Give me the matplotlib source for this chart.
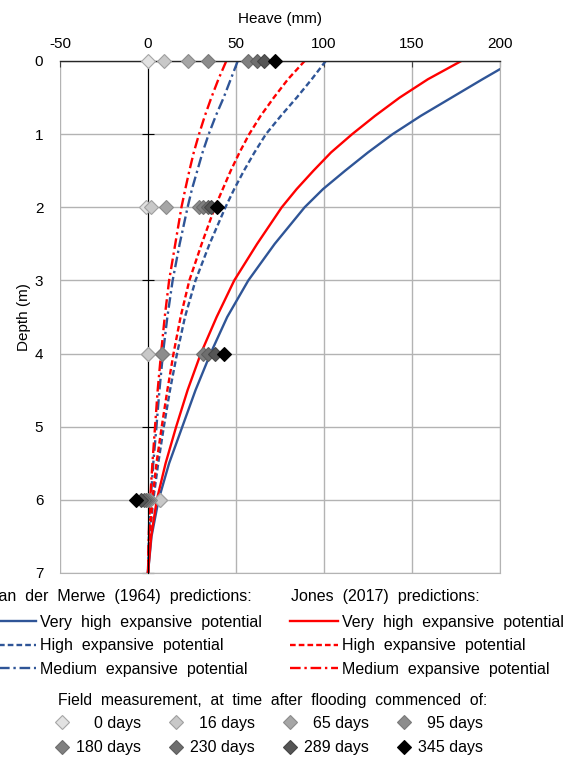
import matplotlib.pyplot as plt

plt.rcParams['font.family'] = ['Liberation Sans', 'DejaVu Sans']
plt.rcParams['font.size'] = 11
plt.rcParams['axes.unicode_minus'] = False

# depth below surface (m)
depth = [0, 0.25, 0.5, 0.75, 1, 1.25, 1.5, 1.75, 2, 2.5, 3, 3.5, 4, 4.5, 5, 5.5, 6, 6.5, 7]

# Van der Merwe (1964) predictions, heave (mm)
vdm_very_high = [208, 190, 172.5, 155, 139, 125, 112, 99.5, 89, 72, 57, 45, 35.5, 27, 19.5, 12, 6, 2, 0]
vdm_high = [101, 93, 84.5, 75.5, 67, 60.5, 54.5, 49, 44, 35, 27, 21, 16.5, 12.5, 9, 5.8, 3, 1, 0]
vdm_medium = [51, 47, 43, 38.5, 34.5, 31, 28, 25, 22.5, 18, 14, 11, 8.5, 6.5, 4.8, 3, 1.5, 0.5, 0]

# Jones (2017) predictions, heave (mm)
jones_very_high = [178, 159, 143, 129, 116, 104, 94, 84.5, 76, 62, 49, 39, 30, 22.5, 16, 10, 5, 1.8, 0]
jones_high = [89, 79.5, 71.5, 64, 57.5, 52, 47, 42.5, 38, 30.5, 23.5, 18.5, 14.5, 11, 7.8, 4.8, 2.5, 0.9, 0]
jones_medium = [44.5, 40, 36, 32.3, 29, 26, 23.5, 21.2, 19, 15.5, 12, 9.5, 7.4, 5.5, 4, 2.5, 1.2, 0.4, 0]

# field measurements (mm) at depths 0, 2, 4, 6 m
field_depth = [0, 2, 4, 6]
heave_0d = [0, -1, 0, 7]
heave_16d = [9, 1.5, 0, 7]
heave_65d = [23, 10, 8, 1]
heave_95d = [34, 29, 8, 0]
heave_180d = [57, 31, 31, -1]
heave_230d = [62, 34, 34, -2]
heave_289d = [66, 36, 38, -4]
heave_345d = [72, 39, 43, -7]

field_labels = ['    0 days', '  16 days', '  65 days', '  95 days',
                '180 days', '230 days', '289 days', '345 days']
field_series = [heave_0d, heave_16d, heave_65d, heave_95d,
                heave_180d, heave_230d, heave_289d, heave_345d]
field_face = ['#E2E2E2', '#C8C8C8', '#A6A6A6', '#8C8C8C',
              '#808080', '#6E6E6E', '#555555', '#000000']
field_edge = ['#A6A6A6', '#A0A0A0', '#8C8C8C', '#7A7A7A',
              '#6E6E6E', '#5E5E5E', '#454545', '#000000']

blue = '#2F5597'
red = '#FF0000'
fs_leg = 11.5

fig = plt.figure(figsize=(5.76, 7.57), dpi=100)
rect = [60 / 576, 1 - 573 / 757, 440 / 576, 512 / 757]
ax = fig.add_axes(rect)

lw = 1.7
b1, = ax.plot(vdm_very_high, depth, color=blue, lw=lw, label='Very  high  expansive  potential')
b2, = ax.plot(vdm_high, depth, color=blue, lw=lw, ls=(0, (2.4, 1.3)), label='High  expansive  potential')
b3, = ax.plot(vdm_medium, depth, color=blue, lw=lw, ls=(0, (4.5, 1.6, 1, 1.6)), label='Medium  expansive  potential')
r1, = ax.plot(jones_very_high, depth, color=red, lw=lw, label='Very  high  expansive  potential')
r2, = ax.plot(jones_high, depth, color=red, lw=lw, ls=(0, (2.4, 1.3)), label='High  expansive  potential')
r3, = ax.plot(jones_medium, depth, color=red, lw=lw, ls=(0, (4.5, 1.6, 1, 1.6)), label='Medium  expansive  potential')

markers = []
for vals, lab, fc, ec in zip(field_series, field_labels, field_face, field_edge):
    m, = ax.plot(vals, field_depth, ls='none', marker='D', ms=7, mfc=fc, mec=ec,
                 mew=0.8, label=lab, zorder=5, clip_on=False)
    markers.append(m)

ax.set_xlim(-50, 200)
ax.set_ylim(7, 0)
ax.set_xticks(range(-50, 201, 50))
ax.set_yticks(range(0, 8))
ax.grid(True, color='#B3B3B3', lw=1.0)
ax.set_axisbelow(True)

for s in ['right', 'bottom']:
    ax.spines[s].set_color('#B3B3B3')
ax.spines['top'].set_color('#262626')
ax.spines['top'].set_linewidth(1.0)
# vertical axis drawn through heave = 0
ax.spines['left'].set_position(('data', 0))
ax.spines['left'].set_color('black')
ax.spines['left'].set_zorder(4)

ax.xaxis.tick_top()
ax.xaxis.set_label_position('top')
ax.tick_params(axis='x', direction='in', length=4, color='#404040', pad=7, labelsize=11)
ax.tick_params(axis='y', direction='inout', length=8, color='black', labelleft=False)
ax.set_xlabel('Heave (mm)', labelpad=10.5, fontsize=11)

# depth labels sit at the left edge of the plot area
lab_ax = fig.add_axes(rect, frameon=False)
lab_ax.patch.set_visible(False)
lab_ax.set_ylim(7, 0)
lab_ax.set_yticks(range(0, 8))
lab_ax.set_xticks([])
lab_ax.tick_params(axis='y', length=0, pad=12, labelsize=11)
lab_ax.set_ylabel('Depth (m)', labelpad=3, fontsize=11)

# legends
fig.text(-11 / 576, 1 - 597 / 757, 'Van  der  Merwe  (1964)  predictions:', va='center', ha='left', fontsize=fs_leg)
fig.text(291 / 576, 1 - 597 / 757, 'Jones  (2017)  predictions:', va='center', ha='left', fontsize=fs_leg)

leg_kw = dict(frameon=False, loc='upper left', borderpad=0, borderaxespad=0,
              handlelength=3.0, handletextpad=0.25, labelspacing=0.52, fontsize=fs_leg)
leg1 = fig.legend(handles=[b1, b2, b3], bbox_to_anchor=(-12 / 576, 1 - 615 / 757), **leg_kw)
leg2 = fig.legend(handles=[r1, r2, r3], bbox_to_anchor=(290 / 576, 1 - 615 / 757), **leg_kw)

fig.text(58 / 576, 1 - 700 / 757, 'Field  measurement,  at  time  after  flooding  commenced  of:',
         va='center', ha='left', fontsize=11.3)
order = [0, 4, 1, 5, 2, 6, 3, 7]
leg3 = fig.legend(handles=[markers[i] for i in order], ncol=4, frameon=False,
                  loc='upper left', bbox_to_anchor=(54 / 576, 1 - 716 / 757),
                  borderpad=0, borderaxespad=0, handlelength=1.0, handletextpad=0.4,
                  columnspacing=1.66, labelspacing=0.58, fontsize=fs_leg)

fig.savefig('out.png', dpi=100)
